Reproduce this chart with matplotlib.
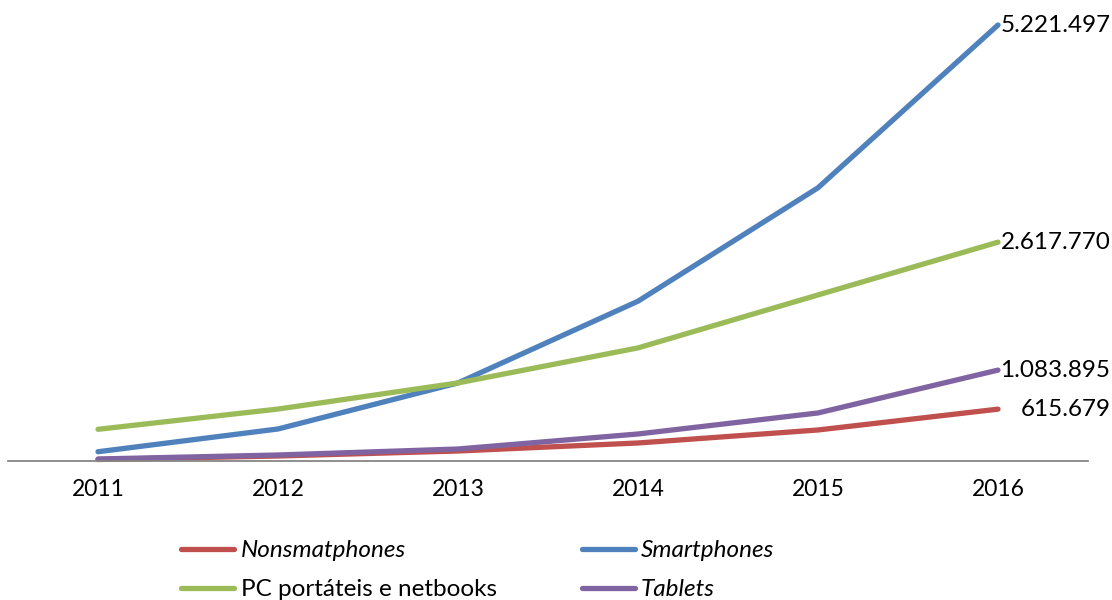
import matplotlib.pyplot as plt

years = ["2011", "2012", "2013", "2014", "2015", "2016"]
nonsmartphones = [12000, 54000, 114000, 210000, 366000, 615679]
smartphones = [105000, 378000, 930000, 1910000, 3270000, 5221497]
pc_netbooks = [374000, 617000, 930000, 1350000, 1985000, 2617770]
tablets = [18000, 66000, 138000, 318000, 570000, 1083895]

series = [
    ("Nonsmatphones", nonsmartphones, "#C0504D", "italic"),
    ("Smartphones", smartphones, "#4F81BD", "italic"),
    ("PC portáteis e netbooks", pc_netbooks, "#9BBB59", "normal"),
    ("Tablets", tablets, "#8064A2", "italic"),
]

plt.rcParams["font.family"] = ["Lato", "DejaVu Sans"]

fig = plt.figure(figsize=(11.12, 6.0), dpi=100)
ax = fig.add_axes([8 / 1112, 1 - 460.5 / 600, 1080 / 1112, 450.5 / 600])

x = list(range(len(years)))
lines = {}
for name, vals, color, style in series:
    ln, = ax.plot(x, vals, color=color, lw=3.8, solid_capstyle="round",
                  clip_on=False, label=name)
    lines[name] = (ln, style)
    ax.annotate(f"{vals[-1]:,}".replace(",", "."), xy=(x[-1], vals[-1]),
                xytext=(81, 0), textcoords="offset points",
                ha="right", va="center", fontsize=17.5, color="black")

ax.set_xlim(-0.5, 5.5)
ax.set_ylim(0, smartphones[-1] * 450.5 / 435.5)
ax.set_xticks(x)
ax.set_xticklabels(years, fontsize=16.5)
ax.tick_params(axis="x", length=0, pad=13)
ax.set_yticks([])
for side in ["top", "right", "left"]:
    ax.spines[side].set_visible(False)
ax.spines["bottom"].set_color("#868686")
ax.spines["bottom"].set_linewidth(1.3)

# legend filled column by column, so order gives two rows of two
order = ["Nonsmatphones", "PC portáteis e netbooks", "Smartphones", "Tablets"]
leg = fig.legend(handles=[lines[n][0] for n in order], ncol=2, loc="upper left",
                 bbox_to_anchor=(181 / 1112, 1 - 540 / 600),
                 frameon=False, fontsize=17.5, handlelength=2.2,
                 handletextpad=0.25, columnspacing=3.5, labelspacing=0.76,
                 borderpad=0, borderaxespad=0)
for txt, n in zip(leg.get_texts(), order):
    txt.set_fontstyle(lines[n][1])

fig.savefig("out.png", dpi=100)
